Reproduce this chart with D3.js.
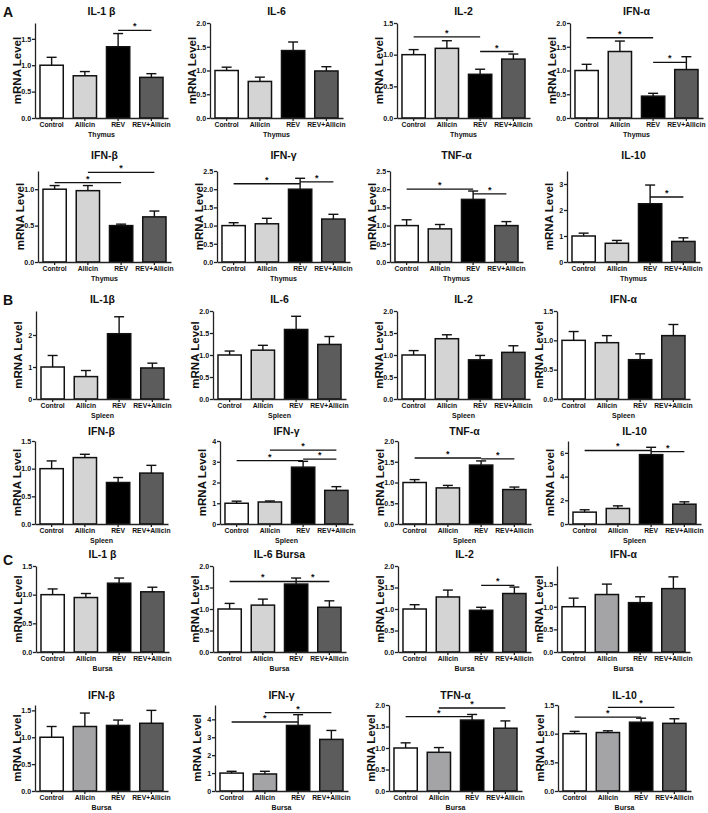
<!DOCTYPE html>
<html>
<head>
<meta charset="utf-8">
<script src="https://cdn.jsdelivr.net/npm/d3@7"></script>
<style>
  body { margin: 0; background: #fff; }
  svg text { font-family: Arial, "Liberation Sans", sans-serif; font-weight: bold; fill: #111; }
</style>
</head>
<body>
<svg id="fig" width="708" height="813"></svg>
<script>
// groups on the x axis of every panel
const groups = ["Control", "Allicin", "REV", "REV+Allicin"];
const tissues = ["Thymus", "Spleen", "Bursa"];
const sections = ["A", "B", "C"];

// panel titles, row by row (4 per row, 2 rows per tissue)
const titles = [
    "IL-1 β", "IL-6", "IL-2", "IFN-α",
    "IFN-β", "IFN-γ", "TNF-α", "IL-10",
    "IL-1β", "IL-6", "IL-2", "IFN-α",
    "IFN-β", "IFN-γ", "TNF-α", "IL-10",
    "IL-1 β", "IL-6 Bursa", "IL-2", "IFN-α",
    "IFN-β", "IFN-γ", "TFN-α", "IL-10"
];

// mean mRNA level per group
const means = [
    [1.00, 0.80, 1.35, 0.77], [1.00, 0.77, 1.42, 0.99], [1.00, 1.10, 0.69, 0.93], [1.00, 1.40, 0.46, 1.02],
    [1.00, 0.98, 0.50, 0.62], [1.00, 1.05, 2.00, 1.18], [1.00, 0.91, 1.72, 1.00], [1.00, 0.72, 2.24, 0.79],
    [1.00, 0.70, 2.04, 0.97], [1.00, 1.11, 1.58, 1.24], [1.00, 1.37, 0.89, 1.06], [1.00, 0.96, 0.67, 1.08],
    [1.00, 1.20, 0.75, 0.92], [1.00, 1.06, 2.74, 1.62], [1.00, 0.87, 1.42, 0.83], [1.00, 1.31, 5.85, 1.67],
    [1.00, 0.95, 1.20, 1.05], [1.00, 1.09, 1.58, 1.04], [1.00, 1.28, 0.97, 1.36], [1.00, 1.27, 1.09, 1.40],
    [1.00, 1.20, 1.22, 1.26], [1.00, 0.95, 3.66, 2.88], [1.00, 0.90, 1.65, 1.46], [1.00, 1.02, 1.20, 1.18]
];

// upper error (SEM)
const sems = [
    [0.15, 0.08, 0.25, 0.07], [0.07, 0.09, 0.18, 0.09], [0.08, 0.12, 0.08, 0.08], [0.13, 0.22, 0.06, 0.27],
    [0.05, 0.07, 0.02, 0.08], [0.08, 0.15, 0.30, 0.13], [0.16, 0.12, 0.23, 0.11], [0.11, 0.11, 0.72, 0.14],
    [0.36, 0.19, 0.53, 0.15], [0.09, 0.11, 0.30, 0.18], [0.10, 0.09, 0.10, 0.15], [0.15, 0.12, 0.10, 0.19],
    [0.14, 0.06, 0.09, 0.14], [0.10, 0.05, 0.28, 0.18], [0.07, 0.06, 0.10, 0.06], [0.20, 0.22, 0.62, 0.20],
    [0.10, 0.07, 0.09, 0.08], [0.13, 0.14, 0.14, 0.15], [0.10, 0.16, 0.07, 0.15], [0.19, 0.23, 0.13, 0.26],
    [0.20, 0.25, 0.10, 0.24], [0.10, 0.15, 0.60, 0.50], [0.12, 0.11, 0.13, 0.17], [0.04, 0.03, 0.07, 0.08]
];

// top of each y axis
const yMax = [
    1.8, 2, 1.5, 2,
    1.25, 2.5, 2.5, 3.5,
    2.75, 2, 2, 1.5,
    1.5, 4, 2, 7,
    1.5, 2, 2, 1.9,
    1.6, 4.8, 2, 1.5
];

const T05_15 = [0, 0.5, 1, 1.5];
const T05_20 = [0, 0.5, 1, 1.5, 2];
const T05_25 = [0, 0.5, 1, 1.5, 2, 2.5];
const yTicks = [
    T05_15, T05_20, T05_15, T05_20,
    [0, 0.5, 1], T05_25, T05_25, [0, 1, 2, 3],
    [0, 1, 2], T05_20, T05_20, T05_15,
    T05_15, [0, 1, 2, 3, 4], T05_20, [0, 2, 4, 6],
    T05_15, T05_20, T05_20, T05_15,
    T05_15, [0, 1, 2, 3, 4], T05_20, T05_15
];

// significance bars: [from group, to group, level]
const sigs = [
    [[2, 3, 1.66]], [], [[0, 2, 1.28], [2, 3, 1.05]], [[0, 2, 1.69], [2, 3, 1.17]],
    [[0, 2, 1.09], [1, 3, 1.23]], [[0, 2, 2.15], [2, 3, 2.2]], [[0, 2, 2.0], [2, 3, 1.87]], [[2, 3, 2.5]],
    [], [], [], [],
    [], [[0, 2, 3.05], [1, 3, 3.56], [2, 3, 3.13]], [[0, 2, 1.59], [2, 3, 1.57]], [[0, 2, 6.2], [2, 3, 6.1]],
    [], [[0, 2, 1.64], [2, 3, 1.64]], [[2, 3, 1.55]], [],
    [], [[0, 2, 3.85], [1, 3, 4.38]], [[0, 2, 1.73], [1, 3, 1.93]], [[0, 2, 1.29], [1, 3, 1.46]]
];

// layout
const rowBase = [118, 262, 399, 524, 652, 791];
const rowTop = [23, 171, 311, 441, 566, 705];
const rowTitle = [11, 155, 299, 431, 554, 695];
const colX = [
    [35, 210, 397, 570],
    [38, 217, 390, 567],
    [36, 213, 397, 557],
    [35, 220, 398, 568],
    [36, 213, 398, 557],
    [35, 215, 389, 558]
];
const panelW = 133;
const sectionY = [12, 300, 560];

const lightFill = ["#ffffff", "#d4d4d4", "#000000", "#5c5c5c"];
const darkFill = ["#ffffff", "#a4a4a6", "#000000", "#5c5c5c"];
const darkAllicin = [19, 20, 21, 22, 23];

const svg = d3.select("#fig");

sections.forEach((s, k) => {
    svg.append("text")
        .attr("x", 3)
        .attr("y", sectionY[k] + 5)
        .attr("font-size", 14)
        .text(s);
});

titles.forEach((title, i) => {
    const r = Math.floor(i / 4);
    const c = i % 4;
    const x0 = colX[r][c];
    const tissue = tissues[Math.floor(r / 2)];
    const fills = darkAllicin.includes(i) ? darkFill : lightFill;

    const x = d3.scaleBand()
        .domain(groups)
        .range([x0, x0 + panelW])
        .paddingInner(0.3)
        .paddingOuter(0.15);
    const y = d3.scaleLinear()
        .domain([0, yMax[i]])
        .range([rowBase[r], rowTop[r]]);
    const cx = k => x(groups[k]) + x.bandwidth() / 2;

    const g = svg.append("g");

    // bars
    g.selectAll("rect")
        .data(means[i])
        .join("rect")
        .attr("x", (d, k) => x(groups[k]))
        .attr("y", d => y(d))
        .attr("width", x.bandwidth())
        .attr("height", d => y(0) - y(d))
        .attr("fill", (d, k) => fills[k])
        .attr("stroke", "#111")
        .attr("stroke-width", 1.5);

    // error bars (upper only)
    const eb = g.append("g").attr("stroke", "#111").attr("stroke-width", 1.4);
    means[i].forEach((m, k) => {
        const top = y(m + sems[i][k]);
        eb.append("line").attr("x1", cx(k)).attr("x2", cx(k)).attr("y1", y(m)).attr("y2", top);
        eb.append("line").attr("x1", cx(k) - 5).attr("x2", cx(k) + 5).attr("y1", top).attr("y2", top);
    });

    // axes
    const allInt = yTicks[i].every(t => Number.isInteger(t));
    const yAxis = g.append("g")
        .attr("transform", `translate(${x0},0)`)
        .call(d3.axisLeft(y)
            .tickValues(yTicks[i])
            .tickSize(3)
            .tickSizeOuter(0)
            .tickFormat(d3.format(allInt ? "d" : ".1f")));
    yAxis.selectAll("text").attr("font-size", 7.2).attr("dx", "0.3em");

    const xAxis = g.append("g")
        .attr("transform", `translate(0,${rowBase[r]})`)
        .call(d3.axisBottom(x).tickSize(3).tickSizeOuter(0));
    xAxis.selectAll("text").attr("font-size", 6.8).attr("dy", "0.45em");

    g.selectAll(".domain, .tick line")
        .attr("stroke", "#222")
        .attr("stroke-width", 1.3);

    // labels
    g.append("text")
        .attr("x", x0 + panelW / 2)
        .attr("y", rowTitle[r] + 4)
        .attr("text-anchor", "middle")
        .attr("font-size", 10.5)
        .text(title);

    g.append("text")
        .attr("transform", `translate(${x0 - 18},${(rowBase[r] + rowTop[r]) / 2}) rotate(-90)`)
        .attr("text-anchor", "middle")
        .attr("dominant-baseline", "central")
        .attr("font-size", 11.5)
        .text("mRNA Level");

    g.append("text")
        .attr("x", x0 + panelW / 2)
        .attr("y", rowBase[r] + 19)
        .attr("text-anchor", "middle")
        .attr("font-size", 7)
        .text(tissue);

    // significance marks
    sigs[i].forEach(([a, b, v]) => {
        g.append("line")
            .attr("x1", cx(a)).attr("x2", cx(b))
            .attr("y1", y(v)).attr("y2", y(v))
            .attr("stroke", "#111")
            .attr("stroke-width", 1.3);
        g.append("text")
            .attr("x", (cx(a) + cx(b)) / 2)
            .attr("y", y(v) - 1)
            .attr("text-anchor", "middle")
            .attr("font-size", 9)
            .text("*");
    });
});
</script>
</body>
</html>
